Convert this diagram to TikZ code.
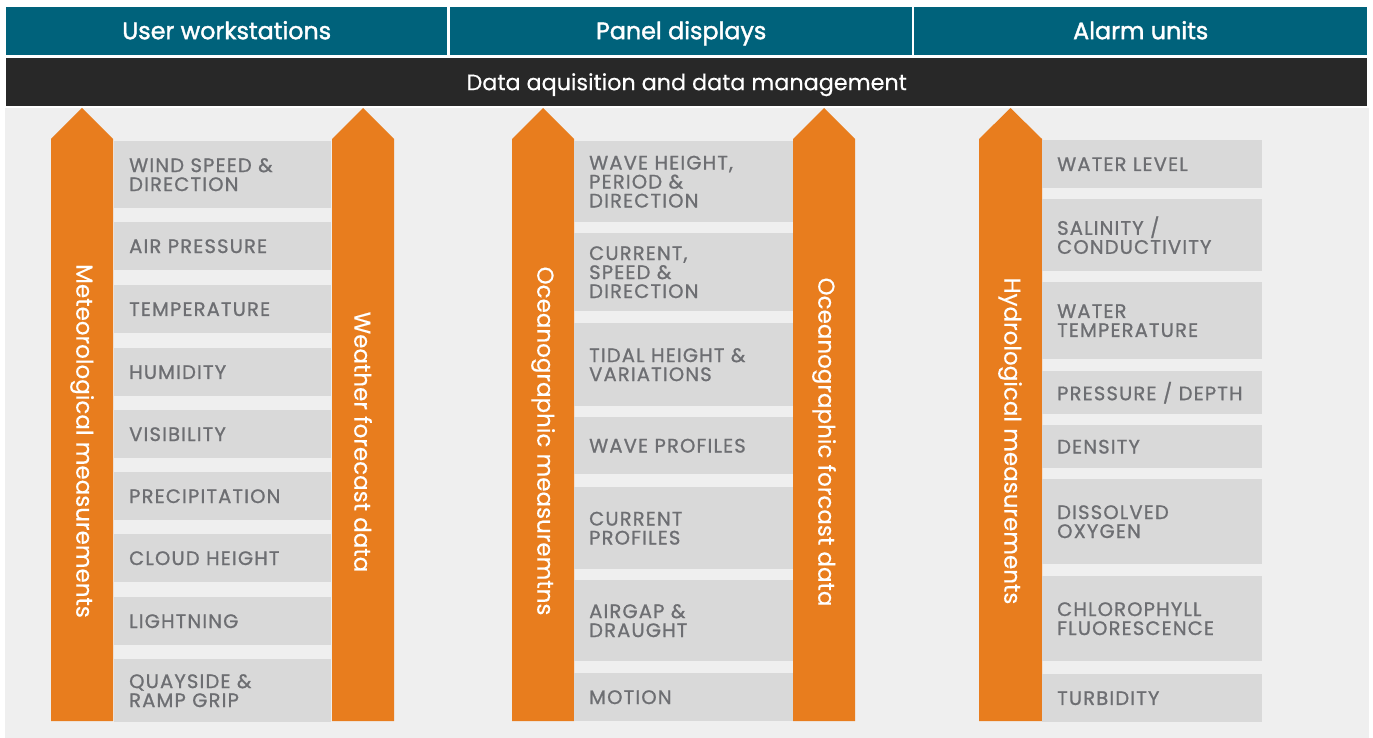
\documentclass[tikz,border=0pt]{standalone}
\usepackage{fontspec}
\setmainfont{Poppins}
\newfontfamily\lblfam[LetterSpace=6,FakeBold=1]{Poppins}
\newfontfamily\hdrfam[FakeBold=1.6]{Poppins}
\newfontfamily\vfam[FakeBold=0.4]{Poppins}
\definecolor{hdrteal}{HTML}{00627B}
\definecolor{barblack}{HTML}{282828}
\definecolor{bggrey}{HTML}{EFEFEF}
\definecolor{boxgrey}{HTML}{D9D9D9}
\definecolor{arrorange}{HTML}{E87D1E}
\definecolor{txtgrey}{HTML}{6D6E72}
\tikzset{
  hdr/.style={fill=hdrteal, text=white, anchor=north west, inner sep=0pt, minimum height=48pt,
    text height=16pt, text depth=0pt, font=\hdrfam\fontsize{23.8}{24}\selectfont},
  bar/.style={fill=barblack, text=white, anchor=north west, inner sep=0pt, minimum height=48pt,
    text height=16pt, text depth=0pt, font=\vfam\fontsize{22.3}{24}\selectfont},
  item/.style={fill=boxgrey, text=txtgrey, anchor=north west, inner xsep=15pt, inner ysep=0pt,
    align=left, font=\lblfam\fontsize{19.5}{19}\selectfont},
  colA/.style={item, text width=187pt},
  colB/.style={item, text width=189pt},
  colC/.style={item, text width=190pt},
  upbar/.style={fill=arrorange},
  vlabel/.style={text=white, rotate=-90, inner sep=0pt, font=\vfam\fontsize{23}{24}\selectfont}
}
\begin{document}
\begin{tikzpicture}[x=1pt,y=-1pt]
\useasboundingbox (0,0) rectangle (1373,738);
\fill[white] (0,0) rectangle (1373,738);
% headers
\node[hdr, minimum width=441pt] (h1) at (6,7) {User workstations};
\node[hdr, minimum width=462pt] (h2) at (450,7) {Panel displays};
\node[hdr, minimum width=453pt] (h3) at (914,7) {Alarm units};
\node[bar, minimum width=1361pt] (dam) at (6,58) {Data aquisition and data management};
% background
\fill[bggrey] (5,108) rectangle (1369,738);
% arrows
\fill[upbar] (51,721) -- (51,139) -- (82,108) -- (113,139) -- (113,721) -- cycle;
\fill[upbar] (332,721) -- (332,139) -- (363,108) -- (394,139) -- (394,721) -- cycle;
\fill[upbar] (512,721) -- (512,139) -- (543,108) -- (574,139) -- (574,721) -- cycle;
\fill[upbar] (793,721) -- (793,139) -- (824,108) -- (855,139) -- (855,721) -- cycle;
\fill[upbar] (979,721) -- (979,139) -- (1010.5,108) -- (1042,139) -- (1042,721) -- cycle;
\node[vlabel] (v1) at (82,441) {Meteorological measurements};
\node[vlabel] (v2) at (363,442) {Weather forecast data};
\node[vlabel] (v3) at (543,441) {Oceanographic measuremtns};
\node[vlabel] (v4) at (824,442) {Oceanographic forcast data};
\node[vlabel] (v5) at (1010,441) {Hydrological measurements};
% column 1
\node[colA, minimum height=67pt] (a1) at (114,141) {WIND SPEED \&\\DIRECTION};
\node[colA, minimum height=48pt] (a2) at (114,222) {AIR PRESSURE};
\node[colA, minimum height=48pt] (a3) at (114,285) {TEMPERATURE};
\node[colA, minimum height=48pt] (a4) at (114,348) {HUMIDITY};
\node[colA, minimum height=48pt] (a5) at (114,410) {VISIBILITY};
\node[colA, minimum height=48pt] (a6) at (114,472) {PRECIPITATION};
\node[colA, minimum height=48pt] (a7) at (114,534) {CLOUD HEIGHT};
\node[colA, minimum height=48pt] (a8) at (114,597) {LIGHTNING};
\node[colA, minimum height=63pt] (a9) at (114,659) {QUAYSIDE \&\\RAMP GRIP};
% column 2
\node[colB, minimum height=81pt] (b1) at (574,141) {WAVE HEIGHT,\\PERIOD \&\\DIRECTION};
\node[colB, minimum height=78pt] (b2) at (574,233) {CURRENT,\\SPEED \&\\DIRECTION};
\node[colB, minimum height=83pt] (b3) at (574,323) {TIDAL HEIGHT \&\\VARIATIONS};
\node[colB, minimum height=57pt] (b4) at (574,417) {WAVE PROFILES};
\node[colB, minimum height=82pt] (b5) at (574,487) {CURRENT\\PROFILES};
\node[colB, minimum height=81pt] (b6) at (574,580) {AIRGAP \&\\DRAUGHT};
\node[colB, minimum height=48pt] (b7) at (574,673) {MOTION};
% column 3
\node[colC, minimum height=48pt] (c1) at (1042,140) {WATER LEVEL};
\node[colC, minimum height=72pt] (c2) at (1042,199) {SALINITY /\\CONDUCTIVITY};
\node[colC, minimum height=77pt] (c3) at (1042,282) {WATER\\TEMPERATURE};
\node[colC, minimum height=43pt] (c4) at (1042,371) {PRESSURE / DEPTH};
\node[colC, minimum height=43pt] (c5) at (1042,425) {DENSITY};
\node[colC, minimum height=85pt] (c6) at (1042,479) {DISSOLVED\\OXYGEN};
\node[colC, minimum height=85pt] (c7) at (1042,576) {CHLOROPHYLL\\FLUORESCENCE};
\node[colC, minimum height=48pt] (c8) at (1042,674) {TURBIDITY};
\end{tikzpicture}
\end{document}
